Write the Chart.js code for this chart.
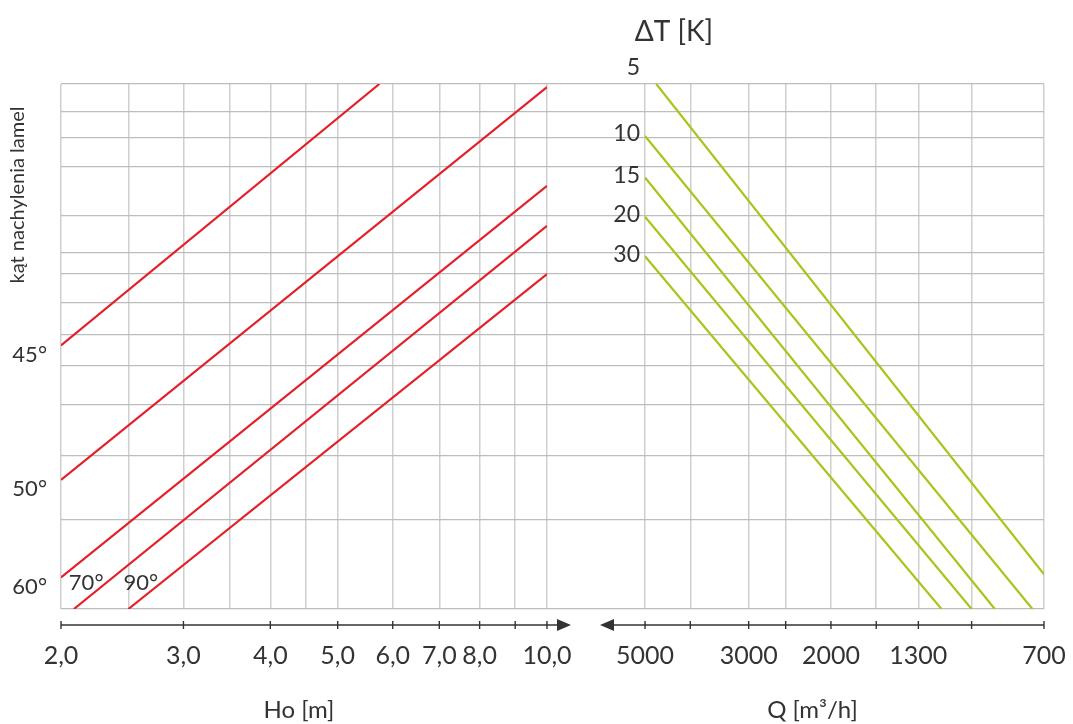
<!DOCTYPE html>
<html>
<head>
<meta charset="utf-8">
<title>Dobór kąta nachylenia lamel</title>
<script src="https://cdn.jsdelivr.net/npm/chart.js@4/dist/chart.umd.min.js"></script>
<style>
  html, body { margin: 0; padding: 0; background: #ffffff; }
</style>
</head>
<body>
<canvas id="nomogram" width="1073" height="724"></canvas>
<script>
// Ho axis (left panel, log)
const hoGrid = [2, 2.5, 3, 3.5, 4, 4.5, 5, 6, 7, 8, 9, 10];
const hoTicks = [2, 3, 4, 5, 6, 7, 8, 9, 10];
const hoTickLabels = ["2,0", "3,0", "4,0", "5,0", "6,0", "7,0", "8,0", "", "10,0"];

// Q axis (right panel, log, reversed)
const qTicks = [5000, 4000, 3000, 2500, 2000, 1600, 1300, 1000, 700];
const qTickLabels = ["5000", "", "3000", "", "2000", "", "1300", "", "700"];

// common hidden level shared by both panels (no numbers printed in the original)
const levelGrid = [0, 17.1, 29.2, 38.9, 46.4, 52.3, 58.4, 63.8, 67.9, 75.0, 84.2, 89.8, 94.7, 100];

// red lines: kąt nachylenia lamel
const angleNames = ["45°", "50°", "60°", "70°", "90°"];
const angleHo = [[2, 5.74], [2, 10], [2, 10], [2.087, 10], [2.5, 10]];
const angleLevel = [[50.2, 100], [24.6, 99.4], [6.0, 80.6], [0, 73.0], [0, 63.8]];

// green lines: ΔT [K]
const dtNames = ["5", "10", "15", "20", "30"];
const dtQ = [[4730, 700], [5000, 741], [5000, 892], [5000, 1000], [5000, 1160]];
const dtLevel = [[100, 6.6], [90.1, 0], [82.2, 0], [74.7, 0], [67.2, 0]];

const RED = "#e3202a";
const GREEN = "#a6c61c";
const INK = "#333333";
const FONT = "Lato, 'Open Sans', 'DejaVu Sans', sans-serif";

Chart.defaults.font.family = FONT;
Chart.defaults.color = INK;

const toPoints = (xs, ys) => xs.map((x, i) => ({ x: x, y: ys[i] }));

const datasets = [];
angleNames.forEach((name, i) => {
  datasets.push({
    label: name,
    group: "angle",
    xAxisID: "x",
    yAxisID: "y",
    data: toPoints(angleHo[i], angleLevel[i]),
    borderColor: RED,
    borderWidth: 2.2,
    showLine: true,
    pointRadius: 0,
  });
});
dtNames.forEach((name, i) => {
  datasets.push({
    label: name,
    group: "dt",
    xAxisID: "x2",
    yAxisID: "y",
    data: toPoints(dtQ[i], dtLevel[i]),
    borderColor: GREEN,
    borderWidth: 2.2,
    showLine: true,
    pointRadius: 0,
  });
});

// one bottom axis: line, arrow head, crossing tick marks and labels
function drawAxis(ctx, scale, ticks, labels, axisY, tipX) {
  const first = scale.getPixelForValue(ticks[0]);
  const last = scale.getPixelForValue(ticks[ticks.length - 1]);
  const far = Math.abs(tipX - first) > Math.abs(tipX - last) ? first : last;
  const dir = tipX > far ? 1 : -1;
  ctx.beginPath();
  ctx.moveTo(far, axisY);
  ctx.lineTo(tipX - dir * 10, axisY);
  ctx.stroke();
  ctx.beginPath();
  ctx.moveTo(tipX, axisY);
  ctx.lineTo(tipX - dir * 14, axisY - 6);
  ctx.lineTo(tipX - dir * 14, axisY + 6);
  ctx.closePath();
  ctx.fill();
  ctx.font = "25px " + FONT;
  ctx.textAlign = "center";
  ctx.textBaseline = "middle";
  ticks.forEach((v, i) => {
    const px = scale.getPixelForValue(v);
    ctx.beginPath();
    ctx.moveTo(px, axisY - 4);
    ctx.lineTo(px, axisY + 4);
    ctx.stroke();
    if (labels[i]) ctx.fillText(labels[i], px, axisY + 31);
  });
}

const nomogramDecor = {
  id: "nomogramDecor",
  afterDraw(chart) {
    const ctx = chart.ctx;
    const area = chart.chartArea;
    const sx = chart.scales.x;
    const sq = chart.scales.x2;
    const sy = chart.scales.y;
    const axisY = area.bottom + 16;

    ctx.save();
    ctx.strokeStyle = INK;
    ctx.fillStyle = INK;
    ctx.lineWidth = 1.4;

    drawAxis(ctx, sx, hoTicks, hoTickLabels, axisY, sx.getPixelForValue(hoTicks[hoTicks.length - 1]) + 24);
    drawAxis(ctx, sq, qTicks, qTickLabels, axisY, sq.getPixelForValue(qTicks[0]) - 45);

    // axis titles
    ctx.textAlign = "center";
    ctx.textBaseline = "middle";
    ctx.font = "24px " + FONT;
    ctx.fillText("Ho [m]", (sx.left + sx.right) / 2 - 5, 710);
    ctx.fillText("Q [m³/h]", (sq.left + sq.right) / 2 - 32, 710);
    ctx.font = "28px " + FONT;
    ctx.fillText("ΔT [K]", 674, 32);

    ctx.save();
    ctx.translate(18, 195);
    ctx.rotate(-Math.PI / 2);
    ctx.font = "20px " + FONT;
    ctx.fillText("kąt nachylenia lamel", 0, 0);
    ctx.restore();

    // angle labels next to the red lines
    ctx.font = "22px " + FONT;
    chart.data.datasets.forEach((ds) => {
      if (ds.group !== "angle") return;
      const p = ds.data[0];
      if (p.x === hoGrid[0]) {
        ctx.textAlign = "right";
        ctx.fillText(ds.label, sx.left - 14, sy.getPixelForValue(p.y) + 9);
      } else {
        ctx.textAlign = "left";
        ctx.fillText(ds.label, sx.getPixelForValue(p.x) - 5, area.bottom - 26);
      }
    });

    // ΔT labels at the left edge of the right panel
    ctx.font = "23px " + FONT;
    ctx.textAlign = "right";
    const edge = sq.getPixelForValue(qTicks[0]);
    chart.data.datasets.forEach((ds) => {
      if (ds.group !== "dt") return;
      const x0 = sq.getPixelForValue(ds.data[0].x);
      const y0 = sy.getPixelForValue(ds.data[0].y);
      const x1 = sq.getPixelForValue(ds.data[1].x);
      const y1 = sy.getPixelForValue(ds.data[1].y);
      const yy = y0 + ((y1 - y0) * (edge - x0)) / (x1 - x0);
      ctx.fillText(ds.label, edge - 5, yy - 2);
    });

    ctx.restore();
  },
};

const gridX = { color: "#cfcfcf", lineWidth: 1.5, drawTicks: false };

let config = {
  type: "scatter",
  data: { datasets: datasets },
  plugins: [nomogramDecor],
  options: {
    responsive: false,
    animation: false,
    events: [],
    layout: { padding: { left: 61, right: 29, top: 84, bottom: 115 } },
    plugins: {
      legend: { display: false },
      tooltip: { enabled: false },
    },
    scales: {
      x: {
        type: "logarithmic",
        position: "bottom",
        stack: "bottom",
        stackWeight: 486,
        min: hoGrid[0],
        max: hoGrid[hoGrid.length - 1],
        afterBuildTicks: (scale) => {
          scale.ticks = hoGrid.map((v) => ({ value: v }));
        },
        grid: gridX,
        border: { display: false },
        ticks: { display: false },
      },
      gap: {
        type: "linear",
        position: "bottom",
        stack: "bottom",
        stackWeight: 98,
        min: 0,
        max: 1,
        grid: { display: false, drawTicks: false },
        border: { display: false },
        ticks: { display: false },
      },
      x2: {
        type: "logarithmic",
        position: "bottom",
        stack: "bottom",
        stackWeight: 399,
        reverse: true,
        min: qTicks[qTicks.length - 1],
        max: qTicks[0],
        afterBuildTicks: (scale) => {
          scale.ticks = qTicks.map((v) => ({ value: v }));
        },
        grid: gridX,
        border: { display: false },
        ticks: { display: false },
      },
      y: {
        type: "linear",
        position: "left",
        min: 0,
        max: 100,
        afterBuildTicks: (scale) => {
          scale.ticks = levelGrid.map((v) => ({ value: v }));
        },
        grid: { color: "#bdbdbd", lineWidth: 1.2, drawTicks: false },
        border: { display: false },
        ticks: { display: false },
      },
    },
  },
};

const nomogram = new Chart(document.getElementById("nomogram"), config);
</script>
</body>
</html>
